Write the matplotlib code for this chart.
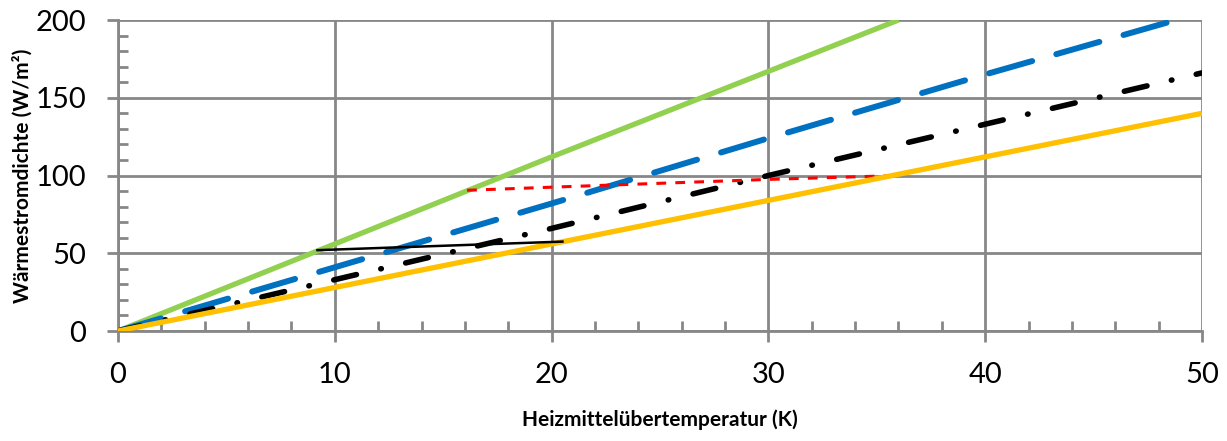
import matplotlib.pyplot as plt
from matplotlib.ticker import MultipleLocator

# Heizmittelübertemperatur (K) / Wärmestromdichte (W/m²)
green_x = [0, 10, 20, 30, 36]
green_y = [0, 56, 112, 167, 200]

blue_x = [0, 10, 20, 30, 40, 48.8]
blue_y = [0, 41, 82, 124, 165, 200]

black_x = [0, 10, 20, 30, 40, 50]
black_y = [0, 33, 66, 100, 133, 166]

yellow_x = [0, 10, 20, 30, 40, 50]
yellow_y = [0, 28, 56, 84, 112, 140]

red_x = [16.1, 20, 25, 30, 36]
red_y = [90.5, 92.5, 95, 97.5, 100]

solid_x = [9.2, 20.5]
solid_y = [52, 57.5]

plt.rcParams['font.family'] = ['Lato', 'DejaVu Sans']

fig = plt.figure(figsize=(12.27, 4.41), dpi=100)
ax = fig.add_axes([0.0962, 0.2494, 0.8834, 0.7052])

grid_c = '#878787'
ax.grid(True, which='major', color=grid_c, linewidth=2)
ax.set_axisbelow(True)

ax.plot(green_x, green_y, color='#92d050', linewidth=3.8, solid_capstyle='butt', zorder=3)
ax.plot(blue_x, blue_y, color='#0070c0', linewidth=4.3, dashes=(7.5, 4.2), dash_capstyle='round', zorder=3)
ax.plot(black_x, black_y, color='black', linewidth=4.0, dashes=(4.2, 4.5, 0.1, 4.5), dash_capstyle='round', zorder=3)
ax.plot(yellow_x, yellow_y, color='#ffc000', linewidth=3.8, solid_capstyle='butt', zorder=4)
ax.plot(red_x, red_y, color='#ff0000', linewidth=2.2, dashes=(3.2, 3.0), zorder=3)
ax.plot(solid_x, solid_y, color='black', linewidth=1.8, zorder=5)

ax.set_xlim(0, 50)
ax.set_ylim(0, 200)
ax.xaxis.set_major_locator(MultipleLocator(10))
ax.xaxis.set_minor_locator(MultipleLocator(2))
ax.yaxis.set_major_locator(MultipleLocator(50))
ax.yaxis.set_minor_locator(MultipleLocator(10))

for s in ax.spines.values():
    s.set_visible(False)
for s in ['left', 'bottom']:
    ax.spines[s].set_visible(True)
    ax.spines[s].set_color(grid_c)
    ax.spines[s].set_linewidth(2)

ax.tick_params(which='major', direction='out', length=8, width=2, color=grid_c,
               labelsize=21, pad=14)
ax.tick_params(which='minor', direction='in', length=7, width=2, color=grid_c)
ax.tick_params(axis='y', which='major', pad=15)

ax.set_xlabel('Heizmittelübertemperatur (K)', fontsize=15, fontweight='bold', labelpad=16)
ax.set_ylabel('Wärmestromdichte (W/m²)', fontsize=15, fontweight='bold', labelpad=2)

fig.savefig('out.png', dpi=100)
